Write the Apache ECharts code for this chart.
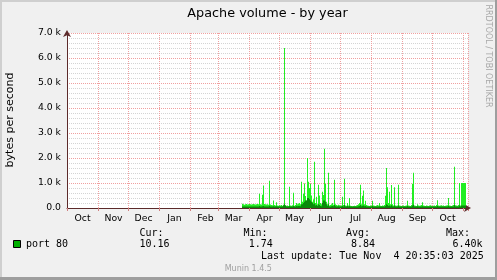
<!DOCTYPE html>
<html><head><meta charset="utf-8">
<script src="https://cdn.jsdelivr.net/npm/echarts@6/dist/echarts.min.js"></script>
<style>html,body{margin:0;padding:0;background:#f0f0f0}#c{width:497px;height:280px}</style>
</head><body><div id="c"></div>
<script>
// ---- data ----
const firstDay = '2024-10-01';
const dayCount = 401;
const dataStartDay = '2025-03-25';
// daily peak volume (bytes/s), from 2025-03-25
const volumeMax = [
170,150,130,150,160,140,150,160,150,140,
150,160,150,140,150,160,150,570,150,140,
530,900,160,150,140,150,130,1090,140,120,
110,300,120,100,230,100,90,110,100,120,
90,130,6400,110,90,100,80,850,100,90,
110,610,90,120,200,150,180,200,150,1050,
250,570,980,480,300,2000,1050,800,970,500,
250,350,1850,200,450,150,930,500,200,150,
650,520,2370,970,250,150,1410,100,120,150,
200,130,1130,150,120,100,130,110,90,100,
450,120,1170,100,90,200,100,400,90,80,
70,80,90,80,100,120,150,200,930,150,
490,700,150,290,120,100,90,80,100,90,
290,100,90,80,100,120,100,200,90,80,
100,90,120,490,1600,830,200,650,150,920,
150,100,830,100,90,100,930,100,90,80,
90,100,80,90,100,290,100,90,80,120,
970,1410,100,90,80,150,100,90,100,120,
230,100,90,80,100,90,80,100,110,90,
80,90,100,80,120,310,100,90,100,110,
90,100,80,90,100,110,400,100,90,80,
100,120,1650,110,100,90,120,1000,100,1000,
1000,1000,1000,1000
];
// daily base volume (bytes/s), from 2025-03-25
const volumeBase = [
60,60,60,60,60,60,60,60,60,60,
60,60,60,60,60,60,60,80,60,60,
70,80,60,60,60,60,60,90,60,60,
60,70,60,60,70,60,60,60,60,60,
60,100,150,100,60,60,60,80,60,60,
60,80,60,60,80,70,80,80,70,150,
150,200,250,300,300,400,400,350,300,250,
200,150,180,100,120,80,150,120,80,70,
200,300,300,250,150,80,150,60,60,70,
80,70,120,70,60,60,70,60,60,60,
80,60,120,60,60,80,60,80,60,60,
60,60,60,60,60,60,70,80,120,70,
90,100,70,80,60,60,60,60,60,60,
80,60,60,60,60,60,60,70,60,60,
60,60,60,80,150,120,80,100,70,110,
70,60,100,60,60,60,100,60,60,60,
60,60,60,60,60,80,60,60,60,60,
100,130,60,60,60,70,60,60,60,60,
70,60,60,60,60,60,60,60,60,60,
60,60,60,60,60,80,60,60,60,60,
60,60,60,60,60,60,80,60,60,60,
60,60,120,60,60,60,60,100,60,100,
100,100,100,100
];
const monthNames = ['Jan','Feb','Mar','Apr','May','Jun','Jul','Aug','Sep','Oct','Nov','Dec'];
const yTickLabels = ['0.0','1.0 k','2.0 k','3.0 k','4.0 k','5.0 k','6.0 k','7.0 k'];
const titleText = 'Apache volume - by year';
const yName = 'bytes per second';
const seriesName = 'port 80';
const legendHeaders = ['Cur:','Min:','Avg:','Max:'];
const legendValues = ['10.16','1.74','8.84','6.40k'];
const lastUpdate = 'Last update: Tue Nov  4 20:35:03 2025';
const sideText = 'RRDTOOL / TOBI OETIKER';
const footer = 'Munin 1.4.5';

// ---- build ----
const categories = [];
const t0 = Date.parse(firstDay + 'T00:00:00Z');
for (let i = 0; i < dayCount; i++) categories.push(new Date(t0 + i * 86400000).toISOString().slice(0, 10));
const off = categories.indexOf(dataStartDay);
const maxData = categories.map((c, i) => (i >= off && i - off < volumeMax.length) ? volumeMax[i - off] : null);
const baseData = categories.map((c, i) => (i >= off && i - off < volumeBase.length) ? volumeBase[i - off] : null);
const dayOf = c => parseInt(c.slice(8, 10), 10);
const monthOf = c => parseInt(c.slice(5, 7), 10) - 1;

const chart = echarts.init(document.getElementById('c'), null, {renderer: 'canvas'});
const axisCol = '#5c2a2a';
const mono = '"DejaVu Sans Mono"';
const sans = '"DejaVu Sans"';
const legendX = [139.5, 243.5, 346, 446];
const valueX = [139.5, 248.8, 351, 452.5];
const graphics = [
  {type: 'rect', shape: {x: 0, y: 0, width: 497, height: 2}, style: {fill: '#cfcfcf'}, silent: true},
  {type: 'rect', shape: {x: 0, y: 0, width: 2, height: 280}, style: {fill: '#cfcfcf'}, silent: true},
  {type: 'rect', shape: {x: 495, y: 0, width: 2, height: 280}, style: {fill: '#9e9e9e'}, silent: true},
  {type: 'rect', shape: {x: 0, y: 277, width: 497, height: 3}, style: {fill: '#9e9e9e'}, silent: true},
  {type: 'text', x: 267.5, y: 13.2, style: {text: titleText, font: '12.8px ' + sans, fill: '#000', align: 'center', verticalAlign: 'middle'}},
  {type: 'text', x: 10, y: 120, rotation: Math.PI / 2, style: {text: yName, font: '11px ' + sans, fill: '#000', align: 'center', verticalAlign: 'middle'}},
  {type: 'text', x: 488, y: 56, rotation: -Math.PI / 2, style: {text: sideText, font: '8px ' + sans, fill: '#a8a8a8', align: 'center', verticalAlign: 'middle'}},
  {type: 'rect', shape: {x: 13.5, y: 240.5, width: 7, height: 7}, style: {fill: '#00b000', stroke: '#000', lineWidth: 1}},
  {type: 'text', x: 26, y: 244.5, style: {text: seriesName, font: '10px ' + mono, fill: '#000', align: 'left', verticalAlign: 'middle'}},
  {type: 'text', x: 261, y: 256.2, style: {text: lastUpdate, font: '10px ' + mono, fill: '#000', align: 'left', verticalAlign: 'middle'}},
  {type: 'text', x: 248.3, y: 269.2, style: {text: footer, font: '8px ' + sans, fill: '#a0a0a0', align: 'center', verticalAlign: 'middle'}}
];
legendHeaders.forEach((h, i) => graphics.push({type: 'text', x: legendX[i], y: 233.2, style: {text: h, font: '10px ' + mono, fill: '#000', align: 'left', verticalAlign: 'middle'}}));
legendValues.forEach((v, i) => graphics.push({type: 'text', x: valueX[i], y: 244.5, style: {text: v, font: '10px ' + mono, fill: '#000', align: 'left', verticalAlign: 'middle'}}));

chart.setOption({
  animation: false,
  backgroundColor: '#f0f0f0',
  grid: {left: 67, top: 33, width: 401, height: 175, show: true, backgroundColor: '#ffffff', borderWidth: 0, containLabel: false},
  xAxis: {
    type: 'category', data: categories, boundaryGap: true,
    axisLine: {show: true, lineStyle: {color: axisCol, width: 1}, symbol: ['none', 'arrow'], symbolSize: [6, 7], symbolOffset: [0, 3]},
    axisTick: {show: true, length: 3, interval: (i, v) => dayOf(v) === 1, lineStyle: {color: '#d08080'}},
    axisLabel: {interval: (i, v) => dayOf(v) === 16, formatter: v => monthNames[monthOf(v)], fontFamily: sans, fontSize: 9.3, color: '#000', margin: 6},
    splitLine: {show: true, interval: (i, v) => dayOf(v) === 1, lineStyle: {color: '#f0a0a0', type: [1, 1], width: 1}}
  },
  yAxis: {
    type: 'value', min: 0, max: 7000, interval: 1000,
    axisLine: {show: true, lineStyle: {color: axisCol, width: 1}, symbol: ['none', 'arrow'], symbolSize: [6, 7], symbolOffset: [0, 3]},
    axisTick: {show: false},
    axisLabel: {formatter: (v, i) => yTickLabels[i], fontFamily: sans, fontSize: 9.3, color: '#000', margin: 6},
    splitLine: {show: true, lineStyle: {color: '#f0a0a0', type: [1, 1], width: 1}},
    minorTick: {show: false, splitNumber: 5},
    minorSplitLine: {show: true, lineStyle: {color: '#d4d4d4', type: [1, 1], width: 1}}
  },
  series: [
    {name: seriesName, type: 'bar', data: maxData, barCategoryGap: '0%', barGap: '-100%', itemStyle: {color: '#22ee22'}, silent: true},
    {name: seriesName + ' base', type: 'bar', data: baseData, barCategoryGap: '0%', barGap: '-100%', itemStyle: {color: '#0a8a0a'}, silent: true}
  ],
  graphic: graphics
});
</script></body></html>
